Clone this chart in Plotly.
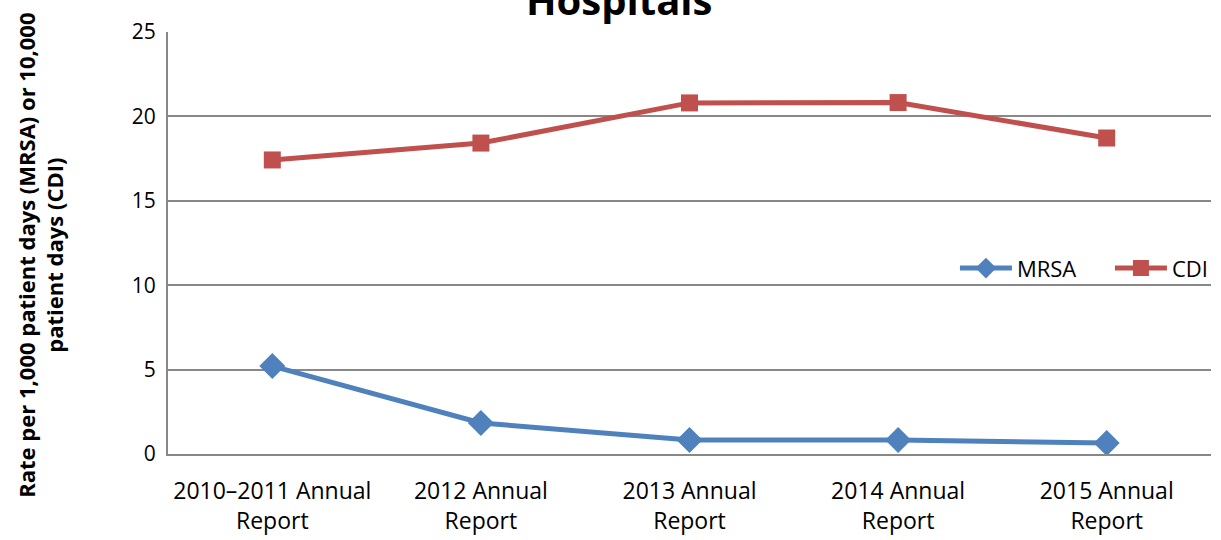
import plotly.graph_objects as go

categories = ["2010–2011 Annual<br>Report", "2012 Annual<br>Report", "2013 Annual<br>Report",
              "2014 Annual<br>Report", "2015 Annual<br>Report"]
mrsa = [5.21, 1.84, 0.83, 0.83, 0.65]
cdi = [17.42, 18.42, 20.8, 20.82, 18.72]
y_ticks = [0, 5, 10, 15, 20, 25]

FONT = "'Open Sans', Lato, sans-serif"

fig = go.Figure()
fig.add_trace(go.Scatter(x=categories, y=mrsa, name="MRSA", mode="lines+markers",
                         line=dict(color="#4F81BD", width=5),
                         marker=dict(symbol="diamond", size=20, color="#4F81BD"),
                         legend="legend"))
fig.add_trace(go.Scatter(x=categories, y=cdi, name="CDI", mode="lines+markers",
                         line=dict(color="#C0504D", width=5),
                         marker=dict(symbol="square", size=17, color="#C0504D"),
                         legend="legend2"))

leg_common = dict(orientation="h", y=0.44, yanchor="middle", xanchor="left",
                  font=dict(size=22), bgcolor="rgba(0,0,0,0)", itemwidth=52)

fig.update_layout(
    width=1221, height=540,
    margin=dict(l=168, r=10, t=32, b=86, autoexpand=False),
    plot_bgcolor="white", paper_bgcolor="white",
    font=dict(family=FONT, size=21, color="black"),
    showlegend=True,
    legend=dict(x=0.7545, **leg_common),
    legend2=dict(x=0.9031, **leg_common),
    xaxis=dict(type="category", showgrid=False, showline=True, linecolor="#888888",
               linewidth=2, ticks="", tickfont=dict(size=23), range=[-0.5, 4.5],
               ticklabelstandoff=15),
    yaxis=dict(range=[0, 25], tickvals=y_ticks, showgrid=True, gridcolor="#888888",
               gridwidth=2, showline=True, linecolor="#888888", linewidth=2,
               ticks="", tickfont=dict(size=21), zeroline=False, ticklabelstandoff=6),
)

fig.add_annotation(text="<b>Hospitals</b>", xref="paper", yref="paper", x=0.432, y=1.0,
                   yanchor="bottom", yshift=3, showarrow=False,
                   font=dict(family=FONT, size=40, color="black"))
fig.add_annotation(text="<b>Rate per 1,000 patient days (MRSA) or 10,000<br>patient days (CDI)</b>",
                   xref="paper", yref="paper", x=-0.122, y=0.4716, xanchor="center",
                   yanchor="middle", textangle=-90, showarrow=False,
                   font=dict(family=FONT, size=22, color="black"))

fig.write_html("out.html", config={"displayModeBar": False},
               post_script="document.body.style.margin='0';")
